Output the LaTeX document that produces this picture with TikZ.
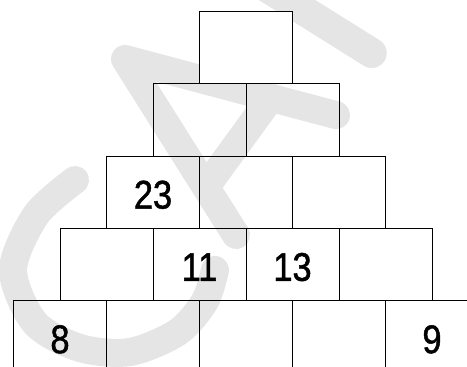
\documentclass[tikz,border=0pt]{standalone}
\usepackage{fontspec}
\newfontfamily\numfont{Liberation Sans}[FakeStretch=0.86, FakeBold=1.2]
\definecolor{wm}{RGB}{229,229,229}
\tikzset{
  cell/.style={draw=black, line width=1pt, minimum width=93pt, minimum height=72.3pt,
    inner sep=0pt, text height=32.6pt, text depth=0pt,
    font=\numfont\fontsize{40}{40}\selectfont},
  wmark/.style={draw=wm, line width=28pt, line cap=round, line join=round}
}
\begin{document}
\begin{tikzpicture}[x=1pt,y=-1pt]
\useasboundingbox (0,0) rectangle (467,367);
\clip (0,0) rectangle (467,367);
% watermark
\draw[wmark, line width=30pt] (220,-42) -- (371.7,53);
\draw[wmark] (336,115.1) -- (125,59) -- (236,235);
\draw[wmark] (270.9,97.6) -- (206.1,186.7);
\draw[wmark] plot[smooth] coordinates {(75,180) (36,215) (13,270) (35,323) (80,348) (130,352) (178,332) (205,301) (215,270)};
% row 0
\node[cell, fill=white] (r0c0) at (246,47.65) {};
% row 1
\node[cell] (r1c0) at (199.5,119.95) {};
\node[cell] (r1c1) at (292.5,119.95) {};
% row 2
\node[cell] (r2c0) at (153,192.25) {23};
\node[cell] (r2c1) at (246,192.25) {};
\node[cell] (r2c2) at (339,192.25) {};
% row 3
\node[cell] (r3c0) at (106.5,264.55) {};
\node[cell] (r3c1) at (199.5,264.55) {11};
\node[cell] (r3c2) at (292.5,264.55) {13};
\node[cell] (r3c3) at (385.5,264.55) {};
% row 4
\node[cell] (r4c0) at (60,336.85) {8};
\node[cell] (r4c1) at (153,336.85) {};
\node[cell] (r4c2) at (246,336.85) {};
\node[cell] (r4c3) at (339,336.85) {};
\node[cell] (r4c4) at (432,336.85) {9};
\end{tikzpicture}
\end{document}
